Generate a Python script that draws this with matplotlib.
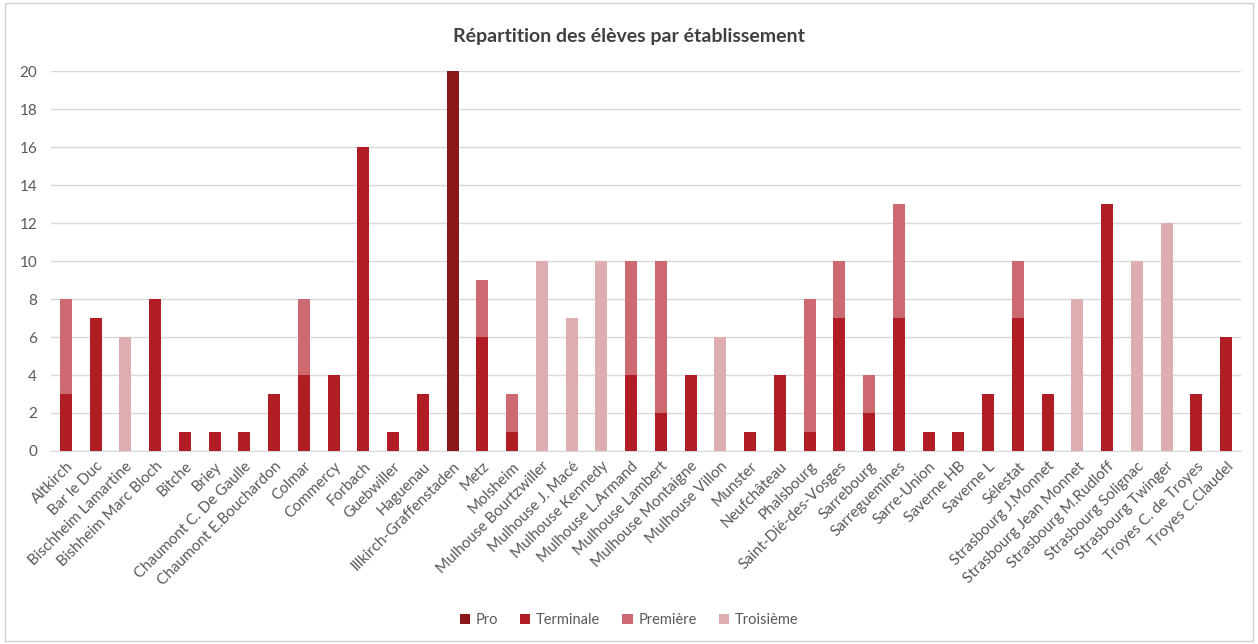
import numpy as np
import matplotlib
matplotlib.use('Agg')
import matplotlib.pyplot as plt
from matplotlib.patches import Rectangle

plt.rcParams['font.family'] = ['Lato', 'DejaVu Sans']

etablissements = ['Altkirch', 'Bar le Duc', 'Bischheim Lamartine', 'Bishheim Marc Bloch',
                  'Bitche', 'Briey', 'Chaumont C. De Gaulle', 'Chaumont E.Bouchardon',
                  'Colmar', 'Commercy', 'Forbach', 'Guebwiller', 'Haguenau',
                  'Illkirch-Graffenstaden', 'Metz', 'Molsheim', 'Mulhouse Bourtzwiller',
                  'Mulhouse J. Macé', 'Mulhouse Kennedy', 'Mulhouse L.Armand',
                  'Mulhouse Lambert', 'Mulhouse Montaigne', 'Mulhouse Villon', 'Munster',
                  'Neufchâteau', 'Phalsbourg', 'Saint-Dié-des-Vosges', 'Sarrebourg',
                  'Sarreguemines', 'Sarre-Union', 'Saverne HB', 'Saverne L', 'Sélestat',
                  'Strasbourg J.Monnet', 'Strasbourg Jean Monnet', 'Strasbourg M.Rudloff',
                  'Strasbourg Solignac', 'Strasbourg Twinger', 'Troyes C. de Troyes',
                  'Troyes C.Claudel']

pro       = [0,0,0,0,0,0,0,0,0,0,0,0,0,20,0,0,0,0,0,0,0,0,0,0,0,0,0,0,0,0,0,0,0,0,0,0,0,0,0,0]
terminale = [3,7,0,8,1,1,1,3,4,4,16,1,3,0,6,1,0,0,0,4,2,4,0,1,4,1,7,2,7,1,1,3,7,3,0,13,0,0,3,6]
premiere  = [5,0,0,0,0,0,0,0,4,0,0,0,0,0,3,2,0,0,0,6,8,0,0,0,0,7,3,2,6,0,0,0,3,0,0,0,0,0,0,0]
troisieme = [0,0,6,0,0,0,0,0,0,0,0,0,0,0,0,0,10,7,10,0,0,0,6,0,0,0,0,0,0,0,0,0,0,0,8,0,10,12,0,0]

series = [('Pro', pro, '#8b1717'),
          ('Terminale', terminale, '#b01d24'),
          ('Première', premiere, '#cd6a71'),
          ('Troisième', troisieme, '#deadb2')]

fig = plt.figure(figsize=(12.58, 6.44), dpi=100)
ax = fig.add_axes([0.0405, 0.2997, 0.946, 0.59])

x = np.arange(len(etablissements))
bottom = np.zeros(len(x))
for nom, vals, col in series:
    vals = np.array(vals)
    ax.bar(x, vals, 0.4, bottom=bottom, color=col, label=nom, zorder=3)
    bottom += vals

ax.set_xlim(-0.5, len(x) - 0.5)
ax.set_ylim(0, 20)
ax.set_yticks(np.arange(0, 21, 2))
ax.yaxis.grid(True, color='#d9d9d9', linewidth=1, zorder=0)
ax.set_xticks(x)
ax.set_xticklabels(etablissements, rotation=45, ha='right', rotation_mode='anchor')
ax.tick_params(axis='both', length=0, labelsize=11, labelcolor='#595959')
ax.tick_params(axis='x', pad=6)
ax.tick_params(axis='y', pad=10)
for s in ['top', 'right', 'left']:
    ax.spines[s].set_visible(False)
ax.spines['bottom'].set_color('#d9d9d9')

fig.text(0.5, 0.944, 'Répartition des élèves par établissement', ha='center', va='center',
         fontsize=14, fontweight='bold', color='#404040')

fig.legend(loc='center', bbox_to_anchor=(0.5, 0.037), ncol=4, frameon=False,
           fontsize=10.5, handlelength=0.7, handleheight=0.7, columnspacing=1.5,
           handletextpad=0.4, labelcolor='#595959')

fig.patches.append(Rectangle((0.004, 0.004), 0.992, 0.992, transform=fig.transFigure,
                             fill=False, edgecolor='#d0d0d0', linewidth=1))

fig.savefig('out.png', dpi=100)
